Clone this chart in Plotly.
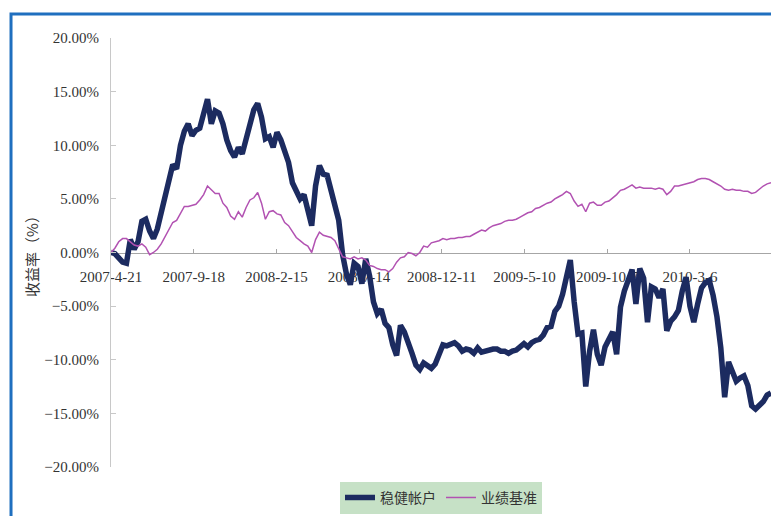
import pandas as pd
import plotly.graph_objects as go

# Weekly cumulative returns (%) starting from the inception date
start_date = "2007-04-21"

account_returns = [
    0.0, -0.1, -0.5, -0.9, -1.0, 1.2, 0.3, 1.0, 2.9, 3.1,
    2.0, 1.3, 2.2, 3.6, 5.0, 6.6, 8.2, 7.8, 10.0, 11.3,
    12.0, 10.9, 11.4, 11.6, 13.0, 14.3, 12.0, 13.2, 13.0, 12.0,
    10.5, 9.5, 8.9, 9.8, 9.2, 10.6, 12.2, 13.3, 13.9, 12.6,
    10.6, 10.8, 9.8, 11.2, 10.5, 9.5, 8.4, 6.5, 5.6, 5.0,
    5.4, 4.0, 2.5, 6.2, 8.1, 7.3, 7.2, 5.8, 4.6, 3.0,
    -0.2, -2.0, -3.0, -1.0, -1.3, -2.9, -0.6, -2.2, -4.6, -5.7,
    -5.3, -6.6, -7.0, -8.6, -9.6, -6.8, -7.4, -8.3, -9.4, -10.5,
    -10.9, -10.3, -10.6, -10.8, -10.4, -9.6, -8.6, -8.7, -8.6, -8.4,
    -8.7, -9.2, -9.0, -9.1, -9.4, -8.9, -9.3, -9.2, -9.0, -9.0,
    -9.0, -9.2, -9.2, -9.4, -9.2, -9.1, -8.8, -8.5, -8.8, -8.4,
    -8.2, -8.1, -7.7, -7.0, -6.9, -5.5, -5.0, -3.9, -2.3, -0.7,
    -4.6, -7.6, -7.5, -12.5, -9.2, -7.2, -9.5, -10.5, -8.8, -8.2,
    -7.4, -9.5, -5.1, -3.6, -2.5, -1.6, -4.8, -1.5, -2.4, -6.5,
    -3.2, -3.4, -4.2, -3.4, -7.3, -6.4, -6.0, -5.4, -3.6, -2.3,
    -5.0, -6.5, -4.8, -3.3, -2.8, -2.6, -4.0, -6.0, -8.9, -13.5,
    -10.2, -11.2, -12.0, -11.7, -11.5, -12.4, -14.3, -14.6, -14.2, -13.9,
    -13.3, -13.1,
]

benchmark_returns = [
    0.0, 0.4, 1.0, 1.3, 1.3, 1.0, 0.7, 0.6, 0.8, 0.5,
    -0.2, 0.0, 0.3, 0.8, 1.5, 2.1, 2.8, 3.0, 3.6, 4.3,
    4.3, 4.4, 4.5, 4.9, 5.4, 6.2, 5.8, 5.5, 5.5, 4.6,
    4.2, 3.4, 3.1, 3.8, 3.3, 4.2, 4.9, 5.1, 5.6, 4.6,
    3.1, 3.8, 3.9, 3.6, 3.5, 2.8, 2.5, 1.9, 1.4, 1.1,
    0.8, 0.6, 0.0, 1.2, 1.9, 1.6, 1.5, 1.4, 1.1, 0.3,
    -0.4, -0.5, -0.6, -0.4, -0.6, -0.5, -0.7, -1.2, -1.3, -1.5,
    -1.6, -1.6, -1.8, -1.5, -0.9, -0.5, -0.4, 0.0, -0.1, -0.3,
    0.0, 0.6, 0.5, 0.9, 1.0, 1.1, 1.3, 1.2, 1.3, 1.3,
    1.4, 1.4, 1.5, 1.5, 1.7, 1.9, 2.1, 2.0, 2.3, 2.5,
    2.6, 2.7, 2.9, 3.0, 3.0, 3.1, 3.3, 3.5, 3.7, 3.8,
    4.1, 4.2, 4.4, 4.6, 4.7, 5.0, 5.2, 5.4, 5.7, 5.5,
    4.8, 4.3, 4.5, 3.8, 4.6, 4.7, 4.4, 4.4, 4.7, 4.8,
    5.1, 5.4, 5.8, 5.9, 6.1, 6.3, 6.0, 6.1, 6.0, 6.0,
    6.0, 5.9, 6.0, 5.9, 5.4, 5.7, 6.2, 6.2, 6.3, 6.4,
    6.5, 6.6, 6.8, 6.9, 6.9, 6.8, 6.6, 6.4, 6.2, 5.9,
    5.8, 5.9, 5.8, 5.8, 5.7, 5.7, 5.5, 5.6, 5.9, 6.2,
    6.4, 6.5,
]

tick_dates = ["2007-04-21", "2007-09-18", "2008-02-15", "2008-07-14",
              "2008-12-11", "2009-05-10", "2009-10-07", "2010-03-06"]
tick_labels = ["2007-4-21", "2007-9-18", "2008-2-15", "2008-7-14",
               "2008-12-11", "2009-5-10", "2009-10-7", "2010-3-6"]

series_names = ["稳健帐户", "业绩基准"]

dates = pd.date_range(start_date, periods=len(account_returns), freq="7D")

serif = "Liberation Serif, Noto Sans CJK SC, serif"
cjk = "Noto Sans CJK SC, sans-serif"

fig = go.Figure()
fig.add_trace(go.Scatter(
    x=dates, y=account_returns, name=series_names[0], mode="lines",
    line=dict(color="#1c2b60", width=5.5),
))
fig.add_trace(go.Scatter(
    x=dates, y=benchmark_returns, name=series_names[1], mode="lines",
    line=dict(color="#b252b2", width=1.5),
))

fig.update_layout(
    width=771, height=516,
    margin=dict(l=111, r=0, t=38, b=49),
    paper_bgcolor="white", plot_bgcolor="white",
    showlegend=True,
    legend=dict(
        orientation="h", x=0.5, xanchor="center", y=-0.072, yanchor="middle",
        bgcolor="#c6e1c6", borderwidth=0,
        font=dict(family=cjk, size=14, color="#333333"),
        itemwidth=30, tracegroupgap=0,
    ),
    xaxis=dict(
        type="date", range=["2007-04-21", "2010-07-31"],
        anchor="free", position=0.5,
        showline=True, linecolor="#a6a6a6", linewidth=1,
        showgrid=False, zeroline=False,
        ticks="inside", ticklen=4, tickcolor="#a6a6a6",
        tickvals=tick_dates, ticktext=tick_labels,
        tickfont=dict(family=serif, size=15, color="#333333"),
        ticklabelstandoff=10,
        layer="below traces",
    ),
    yaxis=dict(
        range=[-20, 20], dtick=5, tick0=0,
        tickformat=".2f", ticksuffix="%",
        showline=True, linecolor="#c8c8c8", linewidth=1,
        showgrid=False, zeroline=False,
        ticks="inside", ticklen=5, tickcolor="#c8c8c8",
        tickfont=dict(family=serif, size=15, color="#333333"),
        ticklabelstandoff=8,
        title=dict(text="收益率（%）", standoff=2,
                   font=dict(family=cjk, size=15, color="#333333")),
    ),
    shapes=[dict(
        type="rect", xref="paper", yref="paper",
        x0=-0.1515, x1=1.2, y0=-0.3, y1=1.056,
        line=dict(color="#1f6fbf", width=3), fillcolor="rgba(0,0,0,0)",
        layer="above",
    )],
)

fig.write_html("out.html")
